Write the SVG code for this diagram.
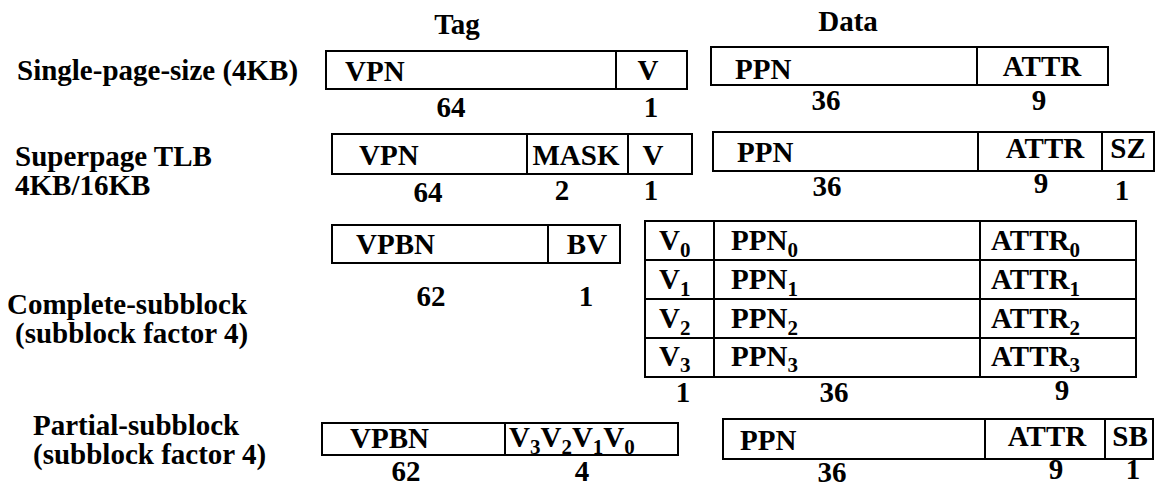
<svg xmlns="http://www.w3.org/2000/svg" width="1156" height="487" viewBox="0 0 1156 487">
  <style>
    text { font-family: "Liberation Serif", "Times New Roman", "DejaVu Serif", serif; font-weight: bold; font-size: 29px; fill: #000; }
    .c { text-anchor: middle; }
    .sub { font-size: 21px; }
    .box { fill: #fff; stroke: #000; stroke-width: 2; }
    .div { stroke: #000; stroke-width: 2; fill: none; }
  </style>
  <rect width="1156" height="487" fill="#fff"/>

  <!-- column headings -->
  <g id="headings">
    <text class="c" x="457" y="34">Tag</text>
    <text class="c" x="848" y="31">Data</text>
  </g>

  <!-- single page size entry -->
  <g id="row-single">
    <text x="17" y="80">Single-page-size (4KB)</text>
    <g id="single-tag">
      <rect class="box" x="326" y="51" width="361" height="38"/>
      <line class="div" x1="616" y1="51" x2="616" y2="89"/>
      <text x="345" y="81">VPN</text>
      <text class="c" x="648" y="80">V</text>
      <text class="c" x="451" y="117">64</text>
      <text class="c" x="651" y="117">1</text>
    </g>
    <g id="single-data">
      <rect class="box" x="711" y="47" width="397" height="38"/>
      <line class="div" x1="977" y1="47" x2="977" y2="85"/>
      <text x="735" y="79">PPN</text>
      <text class="c" x="1042" y="76">ATTR</text>
      <text class="c" x="826" y="110">36</text>
      <text class="c" x="1039" y="110">9</text>
    </g>
  </g>

  <!-- superpage entry -->
  <g id="row-superpage">
    <text x="15" y="166">Superpage TLB</text>
    <text x="15" y="195">4KB/16KB</text>
    <g id="superpage-tag">
      <rect class="box" x="332" y="134" width="360" height="40"/>
      <line class="div" x1="527" y1="134" x2="527" y2="174"/>
      <line class="div" x1="628" y1="134" x2="628" y2="174"/>
      <text x="359" y="165">VPN</text>
      <text class="c" x="576" y="165">MASK</text>
      <text class="c" x="653" y="165">V</text>
      <text class="c" x="428" y="202">64</text>
      <text class="c" x="562" y="200">2</text>
      <text class="c" x="651" y="200">1</text>
    </g>
    <g id="superpage-data">
      <rect class="box" x="713" y="132" width="441" height="39"/>
      <line class="div" x1="978" y1="132" x2="978" y2="171"/>
      <line class="div" x1="1102" y1="132" x2="1102" y2="171"/>
      <text x="737" y="162">PPN</text>
      <text class="c" x="1045" y="158">ATTR</text>
      <text class="c" x="1128" y="158">SZ</text>
      <text class="c" x="827" y="196">36</text>
      <text class="c" x="1041" y="193">9</text>
      <text class="c" x="1122" y="200">1</text>
    </g>
  </g>

  <!-- complete-subblock entry -->
  <g id="row-complete">
    <text x="7" y="314">Complete-subblock</text>
    <text x="15" y="343">(subblock factor 4)</text>
    <g id="complete-tag">
      <rect class="box" x="332" y="225" width="288" height="38"/>
      <line class="div" x1="548" y1="225" x2="548" y2="263"/>
      <text x="356" y="254">VPBN</text>
      <text class="c" x="587" y="254">BV</text>
      <text class="c" x="431" y="306">62</text>
      <text class="c" x="586" y="306">1</text>
    </g>
    <g id="complete-data">
      <rect class="box" x="645" y="221" width="491" height="156"/>
      <line class="div" x1="645" y1="260" x2="1136" y2="260"/>
      <line class="div" x1="645" y1="299" x2="1136" y2="299"/>
      <line class="div" x1="645" y1="338" x2="1136" y2="338"/>
      <line class="div" x1="714" y1="221" x2="714" y2="377"/>
      <line class="div" x1="980" y1="221" x2="980" y2="377"/>
      <text x="659" y="250">V<tspan class="sub" dy="7">0</tspan></text>
      <text x="731" y="250">PPN<tspan class="sub" dy="7">0</tspan></text>
      <text x="991" y="250">ATTR<tspan class="sub" dy="7">0</tspan></text>
      <text x="659" y="289">V<tspan class="sub" dy="7">1</tspan></text>
      <text x="731" y="289">PPN<tspan class="sub" dy="7">1</tspan></text>
      <text x="991" y="289">ATTR<tspan class="sub" dy="7">1</tspan></text>
      <text x="659" y="328">V<tspan class="sub" dy="7">2</tspan></text>
      <text x="731" y="328">PPN<tspan class="sub" dy="7">2</tspan></text>
      <text x="991" y="328">ATTR<tspan class="sub" dy="7">2</tspan></text>
      <text x="659" y="366">V<tspan class="sub" dy="6">3</tspan></text>
      <text x="731" y="366">PPN<tspan class="sub" dy="6">3</tspan></text>
      <text x="991" y="366">ATTR<tspan class="sub" dy="6">3</tspan></text>
      <text class="c" x="683" y="402">1</text>
      <text class="c" x="834" y="402">36</text>
      <text class="c" x="1062" y="400">9</text>
    </g>
  </g>

  <!-- partial-subblock entry -->
  <g id="row-partial">
    <text x="33" y="435">Partial-subblock</text>
    <text x="33" y="464">(subblock factor 4)</text>
    <g id="partial-tag">
      <rect class="box" x="322" y="423" width="356" height="32"/>
      <line class="div" x1="505" y1="423" x2="505" y2="455"/>
      <text x="350" y="448">VPBN</text>
      <text x="509" y="447">V<tspan class="sub" dy="7">3</tspan><tspan dy="-7">V</tspan><tspan class="sub" dy="7">2</tspan><tspan dy="-7">V</tspan><tspan class="sub" dy="7">1</tspan><tspan dy="-7">V</tspan><tspan class="sub" dy="7">0</tspan></text>
      <text class="c" x="406" y="481">62</text>
      <text class="c" x="582" y="481">4</text>
    </g>
    <g id="partial-data">
      <rect class="box" x="723" y="419" width="430" height="40"/>
      <line class="div" x1="985" y1="419" x2="985" y2="459"/>
      <line class="div" x1="1105" y1="419" x2="1105" y2="459"/>
      <text x="740" y="450">PPN</text>
      <text class="c" x="1047" y="446">ATTR</text>
      <text class="c" x="1130" y="446">SB</text>
      <text class="c" x="832" y="482">36</text>
      <text class="c" x="1056" y="479">9</text>
      <text class="c" x="1133" y="479">1</text>
    </g>
  </g>
</svg>
